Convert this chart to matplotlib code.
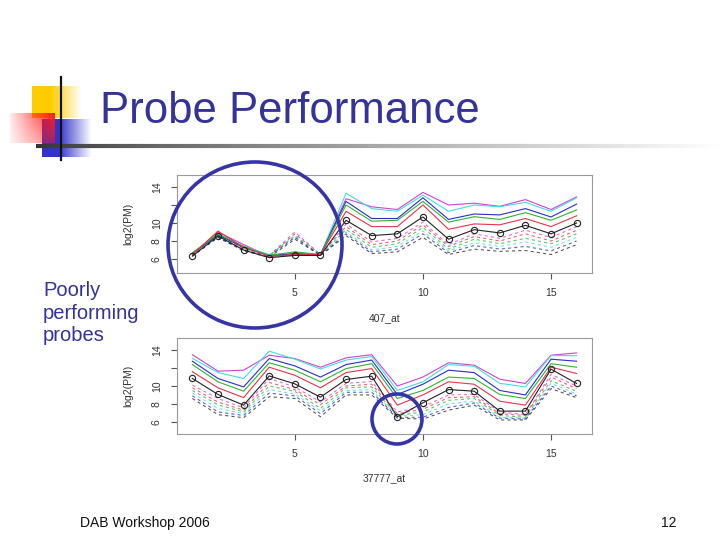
import numpy as np
import matplotlib.pyplot as plt
from matplotlib.patches import Ellipse

plt.rcParams['font.family'] = ['Liberation Sans', 'DejaVu Sans']

probes = np.arange(1, 17)

# 407_at  (log2 PM per probe, one list per array)
top_solid = {
    'black':   [6.33, 8.56, 7.0, 6.15, 6.4, 6.4, 10.3, 8.6, 8.8, 10.67, 8.2, 9.26, 8.9, 9.74, 8.8, 10.0],
    'red':     [6.5, 9.1, 7.3, 6.3, 6.5, 6.5, 11.3, 9.6, 9.6, 12.0, 9.3, 9.9, 9.8, 10.5, 9.6, 10.8],
    'green':   [6.7, 8.8, 7.4, 6.4, 6.8, 6.5, 12.0, 10.2, 10.3, 12.4, 10.1, 10.7, 10.4, 11.15, 10.3, 11.45],
    'blue':    [6.6, 8.7, 7.3, 6.4, 6.6, 6.5, 12.4, 10.5, 10.5, 12.8, 10.4, 11.0, 10.9, 11.6, 10.67, 12.1],
    'cyan':    [6.6, 8.6, 7.4, 6.5, 6.6, 6.5, 13.3, 11.6, 11.3, 13.1, 11.3, 12.0, 11.8, 12.3, 11.3, 12.8],
    'magenta': [6.5, 9.0, 7.6, 6.3, 6.5, 6.5, 12.7, 11.8, 11.5, 13.4, 12.0, 12.2, 11.85, 12.6, 11.5, 12.9],
}
top_dashed = {
    'magenta': [6.6, 8.7, 7.2, 6.4, 9.0, 6.5, 9.9, 7.9, 8.3, 10.1, 7.6, 8.8, 8.3, 9.2, 8.4, 9.6],
    'red':     [6.5, 8.6, 7.1, 6.3, 8.8, 6.5, 9.6, 7.6, 8.0, 9.8, 7.4, 8.5, 8.0, 8.8, 8.0, 9.2],
    'green':   [6.7, 8.5, 7.2, 6.4, 8.6, 6.4, 9.3, 7.3, 7.7, 9.5, 7.1, 8.2, 7.7, 8.3, 7.7, 8.8],
    'cyan':    [6.6, 8.5, 7.1, 6.4, 8.5, 6.5, 9.0, 7.0, 7.4, 9.1, 6.9, 7.8, 7.4, 7.9, 7.3, 8.4],
    'blue':    [6.4, 8.4, 7.0, 6.3, 8.4, 6.4, 8.8, 6.8, 7.1, 8.8, 6.7, 7.5, 7.1, 7.4, 6.9, 8.0],
    'black':   [6.3, 8.4, 6.9, 6.2, 8.2, 6.4, 8.6, 6.6, 6.8, 8.4, 6.5, 7.1, 6.85, 6.95, 6.5, 7.6],
}

# 37777_at
bot_solid = {
    'black':   [10.84, 9.05, 7.86, 11.13, 10.24, 8.75, 10.73, 11.1, 6.56, 8.12, 9.6, 9.42, 7.19, 7.19, 11.88, 10.28],
    'red':     [11.6, 9.8, 8.7, 12.1, 11.2, 9.8, 11.5, 11.95, 7.86, 9.0, 10.47, 10.2, 8.3, 7.86, 12.1, 11.4],
    'green':   [12.4, 10.47, 9.42, 12.6, 11.77, 10.47, 11.95, 12.5, 8.6, 9.5, 11.0, 10.84, 9.05, 8.6, 12.5, 12.1],
    'blue':    [12.77, 10.84, 9.9, 13.07, 12.25, 11.0, 12.4, 12.9, 9.05, 10.2, 11.77, 11.5, 9.5, 9.0, 13.0, 12.77],
    'cyan':    [13.1, 11.5, 10.84, 13.9, 13.0, 11.9, 12.9, 13.3, 9.5, 10.47, 12.4, 12.2, 10.3, 9.9, 13.4, 13.4],
    'magenta': [13.5, 11.66, 11.77, 13.44, 13.07, 12.1, 13.15, 13.5, 10.0, 11.0, 12.6, 12.33, 10.76, 10.28, 13.44, 13.7],
}
bot_dashed = {
    'magenta': [10.1, 8.6, 7.56, 10.84, 9.9, 8.2, 10.3, 10.5, 7.1, 7.67, 9.0, 9.05, 7.1, 6.8, 11.3, 10.0],
    'red':     [9.8, 8.2, 7.3, 10.4, 9.6, 7.9, 10.0, 10.2, 6.9, 7.4, 8.7, 8.8, 6.9, 6.7, 11.0, 9.7],
    'green':   [9.5, 7.9, 7.1, 10.0, 9.4, 7.5, 9.8, 9.9, 6.7, 7.1, 8.4, 8.6, 6.7, 6.5, 10.6, 9.4],
    'cyan':    [9.2, 7.5, 6.9, 9.6, 9.1, 7.2, 9.5, 9.6, 6.6, 6.8, 8.0, 8.3, 6.5, 6.4, 10.3, 9.1],
    'blue':    [8.9, 7.1, 6.7, 9.2, 8.9, 6.9, 9.3, 9.3, 6.5, 6.5, 7.6, 8.1, 6.4, 6.3, 10.0, 8.9],
    'black':   [8.6, 6.8, 6.45, 8.8, 8.6, 6.56, 9.0, 9.0, 6.4, 6.3, 7.3, 7.86, 6.2, 6.2, 9.7, 8.7],
}

colors = {'black': '#222222', 'red': '#e8334a', 'green': '#2fb52f',
          'blue': '#2b2bd0', 'cyan': '#3fe0e0', 'magenta': '#d63fd6'}

slide_blue = '#333399'
W, H = 720, 540
fig = plt.figure(figsize=(7.2, 5.4), dpi=100)

# background layer in pixel coordinates
bg = fig.add_axes([0, 0, 1, 1])
bg.set_xlim(0, W)
bg.set_ylim(H, 0)
bg.axis('off')


def grad_box(ax, x0, x1, y0, y1, rgb, alpha):
    img = np.zeros((alpha.shape[0], alpha.shape[1], 4))
    img[..., :3] = rgb
    img[..., 3] = alpha
    ax.imshow(img, extent=[x0, x1, y1, y0], aspect='auto', interpolation='bilinear', zorder=1)


nx, ny = 60, 40
fx = np.linspace(0, 1, nx)[None, :].repeat(ny, 0)
fy = np.linspace(0, 1, ny)[:, None].repeat(nx, 1)
# yellow square
grad_box(bg, 32, 82, 86, 118, (1.0, 0.8, 0.0), np.clip(1.6 - 1.6 * fx, 0, 1))
# blue square
grad_box(bg, 42, 92, 119, 157, (0.2, 0.2, 0.8), np.clip(1.5 - 1.5 * fx, 0, 1))
# red square
grad_box(bg, 10, 55, 113, 143, (1.0, 0.1, 0.1), np.clip((0.1 + 0.9 * fx) * (1 - 0.45 * fy), 0, 1))
bg.plot([61, 61], [77, 160], color='#111111', lw=1.6, zorder=3)
xs = np.linspace(36, 720, 200)
for i in range(len(xs) - 1):
    g = 0.2 + 0.8 * (i / (len(xs) - 1)) ** 0.8
    bg.plot(xs[i:i + 2], [146, 146], color=(g, g, g), lw=3, solid_capstyle='butt', zorder=2)

bg.text(100, 123, 'Probe Performance', fontsize=31.5, color=slide_blue, va='baseline')
bg.text(43, 296, 'Poorly', fontsize=14.5, color=slide_blue, va='baseline')
bg.text(43, 319, 'performing', fontsize=14.5, color=slide_blue, va='baseline')
bg.text(43, 341, 'probes', fontsize=14.5, color=slide_blue, va='baseline')
bg.text(80, 527, 'DAB Workshop 2006', fontsize=10, color='#111111', va='baseline')
bg.text(677, 527, '12', fontsize=10, color='#111111', va='baseline', ha='right')


def probe_panel(rect, solid, dashed, name, ylim):
    ax = fig.add_axes(rect)
    for key, vals in dashed.items():
        ax.plot(probes, vals, color=colors[key], lw=0.75, ls=(0, (3, 3)), alpha=0.8)
    for key in ['magenta', 'cyan', 'blue', 'green', 'red']:
        ax.plot(probes, solid[key], color=colors[key], lw=0.8)
    ax.plot(probes, solid['black'], color=colors['black'], lw=0.8,
            marker='o', mfc='none', mec='#222222', ms=4.5, mew=0.8)
    ax.set_xlim(0.4, 16.6)
    ax.set_ylim(*ylim)
    ax.set_xticks([5, 10, 15])
    ax.set_yticks([6, 8, 10, 12, 14])
    ax.set_yticklabels(['6', '8', '10', '', '14'], rotation=90, va='center')
    ax.tick_params(labelsize=7.5, length=4, pad=7, color='#555555', labelcolor='#333333')
    for sp in ax.spines.values():
        sp.set_color('#999999')
        sp.set_linewidth(0.8)
    ax.set_xlabel(name, fontsize=7.5, color='#333333')
    ax.set_ylabel('log2(PM)', fontsize=7.5, color='#333333')
    ax.xaxis.set_label_coords(0.5, -0.41)
    ax.yaxis.set_label_coords(-0.105, 0.5)
    return ax


probe_panel([177 / W, 1 - 273 / H, 415 / W, 98 / H], top_solid, top_dashed, '407_at', (4.45, 15.33))
probe_panel([177 / W, 1 - 434 / H, 415 / W, 96 / H], bot_solid, bot_dashed, '37777_at', (4.63, 15.37))

# highlight circles on top
ov = fig.add_axes([0, 0, 1, 1])
ov.set_xlim(0, W)
ov.set_ylim(H, 0)
ov.axis('off')
ov.patch.set_alpha(0)
ov.add_patch(Ellipse((255, 245), 174, 166, fill=False, ec='#3535a8', lw=2.6))
ov.add_patch(Ellipse((397, 419), 50, 50, fill=False, ec='#3535a8', lw=2.6))

fig.savefig('out.png', dpi=100)
